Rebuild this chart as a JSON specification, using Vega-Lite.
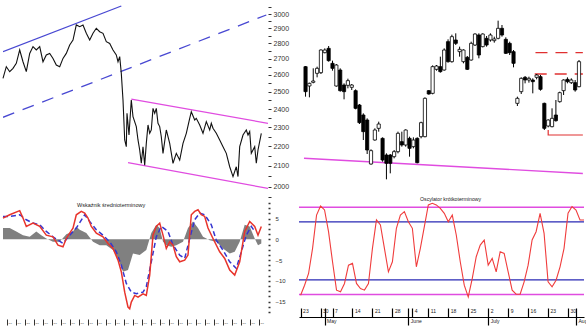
{
  "$schema": "https://vega.github.io/schema/vega-lite/v6.json",
  "padding": 0,
  "background": "white",
  "bounds": "flush",
  "align": "each",
  "columns": 2,
  "spacing": {"row": 2, "column": 31},
  "config": {"view": {"stroke": null}, "font": "Liberation Sans", "axis": {"grid": false, "labelFont": "Liberation Sans"}},
  "datasets": {
    "price": [
      {"t":0,"p":2579},{"t":3.3,"p":2651},{"t":6.7,"p":2620},{"t":10,"p":2641},{"t":13.3,"p":2672},{"t":16.7,"p":2757},{"t":20,"p":2682},{"t":23.3,"p":2620},{"t":26.7,"p":2735},{"t":30,"p":2779},{"t":33.3,"p":2757},{"t":36.7,"p":2779},{"t":40,"p":2682},{"t":43.3,"p":2725},{"t":46.7,"p":2735},{"t":50,"p":2703},{"t":53.3,"p":2661},{"t":56.7,"p":2651},{"t":60,"p":2703},{"t":63.3,"p":2735},{"t":66.7,"p":2789},{"t":70,"p":2822},{"t":73.3,"p":2924},{"t":76.7,"p":2912},{"t":80,"p":2924},{"t":83.3,"p":2867},{"t":86.7,"p":2822},{"t":90,"p":2867},{"t":93.3,"p":2901},{"t":96.7,"p":2878},{"t":100,"p":2867},{"t":103.3,"p":2811},{"t":106.7,"p":2800},{"t":110,"p":2757},{"t":113.3,"p":2725},{"t":115,"p":2682},{"t":116.7,"p":2714},{"t":118.3,"p":2610},{"t":120,"p":2451},{"t":121.7,"p":2232},{"t":123.3,"p":2197},{"t":124,"p":2376},{"t":126,"p":2258},{"t":128.3,"p":2451},{"t":130,"p":2357},{"t":133.3,"p":2303},{"t":135,"p":2232},{"t":136.7,"p":2180},{"t":138.3,"p":2113},{"t":140,"p":2197},{"t":141.7,"p":2104},{"t":143.3,"p":2214},{"t":145,"p":2312},{"t":146.7,"p":2267},{"t":148.3,"p":2285},{"t":150,"p":2404},{"t":151.7,"p":2376},{"t":153.3,"p":2404},{"t":155,"p":2321},{"t":156.7,"p":2303},{"t":158.3,"p":2249},{"t":160,"p":2163},{"t":163.3,"p":2285},{"t":166.7,"p":2214},{"t":170,"p":2113},{"t":173.3,"p":2163},{"t":176.7,"p":2129},{"t":180,"p":2214},{"t":183.3,"p":2267},{"t":186.7,"p":2348},{"t":188.3,"p":2385},{"t":191.7,"p":2339},{"t":193.3,"p":2348},{"t":196.7,"p":2312},{"t":200,"p":2267},{"t":203.3,"p":2330},{"t":206.7,"p":2285},{"t":208.3,"p":2321},{"t":210,"p":2294},{"t":213.3,"p":2267},{"t":216.7,"p":2232},{"t":220,"p":2197},{"t":223.3,"p":2163},{"t":226.7,"p":2096},{"t":230,"p":2048},{"t":233.3,"p":2096},{"t":235,"p":2048},{"t":236.7,"p":2197},{"t":240,"p":2258},{"t":243.3,"p":2285},{"t":245,"p":2258},{"t":246.7,"p":2276},{"t":248.3,"p":2163},{"t":251.7,"p":2197},{"t":253.3,"p":2113},{"t":255,"p":2180},{"t":258.3,"p":2267}
    ],
    "chan": [
      {"name":"bs","t":0,"p":2746},{"name":"bs","t":118.3,"p":3057},
      {"name":"bd","t":0,"p":2354},{"name":"bd","t":263.3,"p":2993},
      {"name":"mu","t":128.3,"p":2457},{"name":"mu","t":265,"p":2321},
      {"name":"ml","t":125,"p":2116},{"name":"ml","t":265,"p":1992}
    ],
    "lbRed": [
      {"t":0,"v":5.1},{"t":6.7,"v":5.9},{"t":16.7,"v":6.9},{"t":20,"v":5.1},{"t":23.3,"v":3.1},{"t":30,"v":3.9},{"t":36.7,"v":3.1},{"t":43.3,"v":1.0},{"t":50,"v":0.6},{"t":55,"v":-1.4},{"t":60,"v":-1.8},{"t":63.3,"v":0.2},{"t":66.7,"v":1.5},{"t":70,"v":2.7},{"t":73.3,"v":5.9},{"t":78.3,"v":6.7},{"t":81.7,"v":6.3},{"t":85,"v":5.1},{"t":88.3,"v":3.1},{"t":93.3,"v":1.5},{"t":100,"v":0.6},{"t":105,"v":-1.0},{"t":110,"v":-2.2},{"t":115,"v":-5.0},{"t":118.3,"v":-7.8},{"t":121.7,"v":-12.7},{"t":125,"v":-16.3},{"t":126.7,"v":-16.7},{"t":128.3,"v":-15.1},{"t":131.7,"v":-13.5},{"t":135,"v":-13.9},{"t":140,"v":-13.1},{"t":143.3,"v":-13.5},{"t":146.7,"v":-8.6},{"t":150,"v":1.0},{"t":153.3,"v":3.1},{"t":156.7,"v":3.9},{"t":160,"v":1.0},{"t":163.3,"v":-2.2},{"t":166.7,"v":-0.6},{"t":170,"v":-1.4},{"t":173.3,"v":-4.2},{"t":176.7,"v":-5.4},{"t":181.7,"v":-5.0},{"t":185,"v":-3.8},{"t":188.3,"v":5.9},{"t":191.7,"v":6.7},{"t":195,"v":7.1},{"t":198.3,"v":5.9},{"t":201.7,"v":5.5},{"t":205,"v":2.7},{"t":210,"v":0.2},{"t":216.7,"v":-3.0},{"t":221.7,"v":-4.6},{"t":226.7,"v":-7.4},{"t":231.7,"v":-8.6},{"t":236.7,"v":-5.4},{"t":241.7,"v":1.9},{"t":246.7,"v":4.3},{"t":251.7,"v":3.1},{"t":255,"v":1.0},{"t":258.3,"v":3.1}
    ],
    "lbBlue": [
      {"t":0,"v":5.5},{"t":6.7,"v":5.5},{"t":16.7,"v":5.9},{"t":23.3,"v":4.7},{"t":30,"v":3.9},{"t":36.7,"v":3.5},{"t":43.3,"v":1.9},{"t":50,"v":0.6},{"t":60,"v":-1.0},{"t":66.7,"v":1.0},{"t":73.3,"v":2.7},{"t":81.7,"v":5.9},{"t":86.7,"v":4.3},{"t":93.3,"v":2.3},{"t":100,"v":1.0},{"t":106.7,"v":-0.6},{"t":113.3,"v":-3.0},{"t":118.3,"v":-6.2},{"t":123.3,"v":-10.6},{"t":128.3,"v":-12.7},{"t":133.3,"v":-13.1},{"t":140,"v":-12.7},{"t":143.3,"v":-11.4},{"t":148.3,"v":-5.4},{"t":153.3,"v":0.6},{"t":158.3,"v":3.1},{"t":165,"v":1.9},{"t":170,"v":-1.4},{"t":176.7,"v":-3.8},{"t":181.7,"v":-4.6},{"t":186.7,"v":0.2},{"t":191.7,"v":4.7},{"t":196.7,"v":6.3},{"t":201.7,"v":5.9},{"t":208.3,"v":3.5},{"t":213.3,"v":-0.2},{"t":220,"v":-2.6},{"t":226.7,"v":-5.4},{"t":233.3,"v":-7.0},{"t":238.3,"v":-3.0},{"t":243.3,"v":1.0},{"t":248.3,"v":3.1},{"t":251.7,"v":1.9}
    ],
    "lbHist": [
      {"t":0,"v":2.7},{"t":6.7,"v":2.7},{"t":13.3,"v":1.9},{"t":20,"v":1.0},{"t":26.7,"v":0.6},{"t":33.3,"v":1.9},{"t":38.3,"v":1.0},{"t":43.3,"v":0.2},{"t":50,"v":-0.6},{"t":56.7,"v":-0.6},{"t":63.3,"v":1.2},{"t":70,"v":1.9},{"t":73.3,"v":3.1},{"t":76.7,"v":2.3},{"t":83.3,"v":1.5},{"t":90,"v":-0.6},{"t":96.7,"v":-1.4},{"t":103.3,"v":-1.4},{"t":110,"v":-2.6},{"t":115,"v":-4.6},{"t":120,"v":-7.8},{"t":125,"v":-7.4},{"t":130,"v":-3.4},{"t":136.7,"v":-3.8},{"t":143.3,"v":-2.6},{"t":148.3,"v":1.5},{"t":153.3,"v":3.5},{"t":156.7,"v":2.7},{"t":160,"v":-0.6},{"t":163.3,"v":-1.4},{"t":168.3,"v":-1.8},{"t":173.3,"v":-1.4},{"t":180,"v":-0.6},{"t":185,"v":2.7},{"t":190,"v":4.3},{"t":195,"v":2.7},{"t":200,"v":0.6},{"t":206.7,"v":-0.2},{"t":213.3,"v":-0.6},{"t":220,"v":-2.2},{"t":226.7,"v":-3.4},{"t":231.7,"v":-3.0},{"t":236.7,"v":-0.6},{"t":241.7,"v":3.5},{"t":246.7,"v":3.1},{"t":251.7,"v":0.2},{"t":255,"v":-1.4},{"t":258.3,"v":-1.0}
    ],
    "candles": [
      {"i":0,"o":2280,"h":2281.2,"l":2226,"c":2235},
      {"i":1,"o":2245.2,"h":2251.2,"l":2224.8,"c":2250},
      {"i":2,"o":2251.8,"h":2277,"l":2250,"c":2254.2},
      {"i":3,"o":2268,"h":2280,"l":2260.8,"c":2277},
      {"i":4,"o":2269.2,"h":2311.2,"l":2266.8,"c":2310},
      {"i":5,"o":2305.2,"h":2313,"l":2304,"c":2310},
      {"i":6,"o":2313,"h":2317.2,"l":2289,"c":2290.8},
      {"i":7,"o":2286,"h":2290.8,"l":2272.8,"c":2277},
      {"i":8,"o":2245.2,"h":2284.8,"l":2244,"c":2283},
      {"i":9,"o":2274,"h":2277,"l":2235,"c":2236.8},
      {"i":10,"o":2247,"h":2250,"l":2221.2,"c":2235},
      {"i":11,"o":2246.4,"h":2258.4,"l":2241,"c":2254.8},
      {"i":12,"o":2242.8,"h":2248.8,"l":2238,"c":2247},
      {"i":13,"o":2236.8,"h":2239.2,"l":2203.2,"c":2205},
      {"i":14,"o":2211,"h":2212.8,"l":2176.8,"c":2179.2},
      {"i":15,"o":2193,"h":2196,"l":2148,"c":2163},
      {"i":16,"o":2184,"h":2187,"l":2122.8,"c":2130},
      {"i":17,"o":2104.8,"h":2131.2,"l":2103.6,"c":2128.8},
      {"i":18,"o":2148,"h":2169,"l":2146.8,"c":2166},
      {"i":19,"o":2169,"h":2181,"l":2163,"c":2176.8},
      {"i":20,"o":2151,"h":2152.8,"l":2109,"c":2112},
      {"i":21,"o":2121,"h":2124,"l":2077.2,"c":2106},
      {"i":22,"o":2121,"h":2122.8,"l":2088,"c":2106},
      {"i":23,"o":2118,"h":2130,"l":2115,"c":2127},
      {"i":24,"o":2127,"h":2163,"l":2124,"c":2160},
      {"i":25,"o":2145,"h":2163,"l":2136,"c":2139},
      {"i":26,"o":2139,"h":2167.2,"l":2136,"c":2166},
      {"i":27,"o":2151,"h":2154,"l":2118,"c":2133},
      {"i":28,"o":2136,"h":2152.8,"l":2133,"c":2148},
      {"i":29,"o":2151,"h":2152.8,"l":2106,"c":2107.2},
      {"i":30,"o":2154,"h":2181,"l":2151,"c":2179.2},
      {"i":31,"o":2154,"h":2224.8,"l":2152.8,"c":2223},
      {"i":32,"o":2236.8,"h":2238,"l":2229.6,"c":2230.8},
      {"i":33,"o":2232,"h":2282.4,"l":2230.2,"c":2280},
      {"i":34,"o":2275.2,"h":2283,"l":2272.8,"c":2281.2},
      {"i":35,"o":2280,"h":2298,"l":2269.2,"c":2271},
      {"i":36,"o":2274,"h":2313,"l":2272.8,"c":2310},
      {"i":37,"o":2325,"h":2329.2,"l":2287.2,"c":2289},
      {"i":38,"o":2289,"h":2337.6,"l":2287.2,"c":2334},
      {"i":39,"o":2328,"h":2340,"l":2319,"c":2322},
      {"i":40,"o":2307,"h":2316,"l":2298,"c":2311.2},
      {"i":41,"o":2289,"h":2311.2,"l":2286,"c":2310},
      {"i":42,"o":2296.8,"h":2299.2,"l":2274,"c":2275.2},
      {"i":43,"o":2292,"h":2325,"l":2290.8,"c":2322},
      {"i":44,"o":2319,"h":2340,"l":2317.2,"c":2338.8},
      {"i":45,"o":2337,"h":2340,"l":2295,"c":2301},
      {"i":46,"o":2316,"h":2340,"l":2314.8,"c":2338.8},
      {"i":47,"o":2331,"h":2335.2,"l":2316,"c":2319},
      {"i":48,"o":2328,"h":2340,"l":2325,"c":2337},
      {"i":49,"o":2326.8,"h":2334,"l":2323.2,"c":2329.8},
      {"i":50,"o":2331,"h":2362.8,"l":2329.2,"c":2349},
      {"i":51,"o":2349,"h":2355,"l":2334,"c":2337},
      {"i":52,"o":2329.2,"h":2332.8,"l":2302.8,"c":2304},
      {"i":53,"o":2322,"h":2325,"l":2301,"c":2305.2},
      {"i":54,"o":2307,"h":2310,"l":2278.8,"c":2286},
      {"i":55,"o":2214,"h":2226,"l":2209.2,"c":2223},
      {"i":56,"o":2235,"h":2260.8,"l":2230.8,"c":2259},
      {"i":57,"o":2260.8,"h":2263.2,"l":2250,"c":2256},
      {"i":58,"o":2256,"h":2262,"l":2251.2,"c":2259},
      {"i":59,"o":2256,"h":2259,"l":2232,"c":2253},
      {"i":60,"o":2260.8,"h":2266.8,"l":2257.2,"c":2265},
      {"i":61,"o":2262,"h":2265,"l":2236.8,"c":2239.2},
      {"i":62,"o":2214,"h":2215.2,"l":2166,"c":2169},
      {"i":63,"o":2173.2,"h":2185.2,"l":2170.8,"c":2184},
      {"i":64,"o":2172,"h":2205,"l":2170.8,"c":2187},
      {"i":65,"o":2193,"h":2220,"l":2181,"c":2182.8},
      {"i":66,"o":2217,"h":2235,"l":2215.2,"c":2233.2},
      {"i":67,"o":2236.8,"h":2257.2,"l":2229,"c":2256},
      {"i":68,"o":2257.2,"h":2260.8,"l":2250,"c":2253},
      {"i":69,"o":2251.2,"h":2259,"l":2248.8,"c":2256},
      {"i":70,"o":2251.2,"h":2256,"l":2235,"c":2238},
      {"i":71,"o":2244,"h":2292,"l":2242.8,"c":2289}
    ],
    "rlines": [
      {"name":"m","i":-0.4,"p":2115.1,"k":0},{"name":"m","i":72,"p":2087.7,"k":1},
      {"name":"u","i":59.7,"p":2305.2,"k":0},{"name":"u","i":72,"p":2305.2,"k":1},
      {"name":"d","i":59.5,"p":2266.8,"k":0},{"name":"d","i":72,"p":2266.8,"k":1},
      {"name":"s","i":63,"p":2166,"k":0},{"name":"s","i":63,"p":2157,"k":1},{"name":"s","i":72,"p":2157,"k":2}
    ],
    "stoch": [
      {"i":0,"v":4.3},{"i":1,"v":14.6},{"i":2,"v":26.7},{"i":3,"v":52.6},{"i":4,"v":87.0},{"i":5,"v":96.3},{"i":6,"v":92.2},{"i":7,"v":69.8},{"i":8,"v":38.8},{"i":9,"v":9.5},
      {"i":10,"v":7.8},{"i":11,"v":16.4},{"i":12,"v":35.3},{"i":13,"v":37.1},{"i":14,"v":16.4},{"i":15,"v":11.2},{"i":16,"v":9.5},{"i":17,"v":16.4},{"i":18,"v":52.6},{"i":19,"v":81.9},
      {"i":20,"v":76.7},{"i":21,"v":52.6},{"i":22,"v":28.4},{"i":23,"v":38.8},{"i":24,"v":73.3},{"i":25,"v":87.0},{"i":26,"v":90.5},{"i":27,"v":80.1},{"i":28,"v":73.3},{"i":29,"v":33.6},
      {"i":30,"v":52.6},{"i":31,"v":75.0},{"i":32,"v":97.4},{"i":33,"v":99.1},{"i":34,"v":97.4},{"i":35,"v":93.9},{"i":36,"v":88.8},{"i":37,"v":80.1},{"i":38,"v":87.0},{"i":39,"v":66.4},
      {"i":40,"v":38.8},{"i":41,"v":14.6},{"i":42,"v":2.6},{"i":43,"v":21.5},{"i":44,"v":44.0},{"i":45,"v":56.0},{"i":46,"v":61.2},{"i":47,"v":35.3},{"i":48,"v":42.2},{"i":49,"v":28.4},
      {"i":50,"v":49.1},{"i":51,"v":47.4},{"i":52,"v":28.4},{"i":53,"v":9.5},{"i":54,"v":5.3},{"i":55,"v":5.3},{"i":56,"v":18.1},{"i":57,"v":35.3},{"i":58,"v":61.2},{"i":59,"v":69.8},
      {"i":60,"v":88.8},{"i":61,"v":68.1},{"i":62,"v":18.1},{"i":63,"v":12.9},{"i":64,"v":19.8},{"i":65,"v":33.6},{"i":66,"v":52.6},{"i":67,"v":88.8},{"i":68,"v":95.7},{"i":69,"v":92.2},
      {"i":70,"v":81.9},{"i":71,"v":81.9}
    ],
    "levels": [{"lv":95,"c":"m"},{"lv":5,"c":"m"},{"lv":80,"c":"b"},{"lv":20,"c":"b"}]
  },
  "concat": [
    {
      "width": 265,
      "height": 198,
      "encoding": {
        "x": {"field": "t", "type": "quantitative", "scale": {"domain": [0, 265], "nice": false}, "axis": null},
        "y": {"field": "p", "type": "quantitative", "scale": {"type": "log", "domain": [1947.6, 3100.3], "nice": false},
          "axis": {"orient": "right", "values": [1950,2000,2050,2100,2150,2200,2250,2300,2350,2400,2450,2500,2550,2600,2650,2700,2750,2800,2850,2900,2950,3000,3050],
            "labelExpr": "datum.value % 100 === 0 ? '' + datum.value : ''", "domain": false, "tickSize": 3, "tickColor": "#333", "labelPadding": 2, "labelFontSize": 7, "labelColor": "#333", "title": null, "labelOverlap": false, "labelFlush": false}}
      },
      "layer": [
        {"data": {"name": "chan"}, "transform": [{"filter": "datum.name === 'bs'"}], "mark": {"type": "line", "strokeWidth": 1.3, "color": "#4848d2", "clip": true}, "encoding": {}},
        {"data": {"name": "chan"}, "transform": [{"filter": "datum.name === 'bd'"}], "mark": {"type": "line", "strokeWidth": 1.3, "color": "#4848d2", "strokeDash": [12, 9], "clip": true}, "encoding": {}},
        {"data": {"name": "chan"}, "transform": [{"filter": "datum.name === 'mu' || datum.name === 'ml'"}], "mark": {"type": "line", "strokeWidth": 1.3, "color": "#e04ce0", "clip": true}, "encoding": {"detail": {"field": "name"}}},
        {"data": {"name": "price"}, "mark": {"type": "line", "color": "#111111", "strokeWidth": 1.1}, "encoding": {}}
      ]
    },
    {
      "width": 285,
      "height": 198,
      "encoding": {
        "x": {"field": "i", "type": "quantitative", "scale": {"domain": [-0.4, 71.0], "nice": false}, "axis": null}
      },
      "layer": [
        {"data": {"name": "rlines"}, "transform": [{"filter": "datum.name === 'm'"}], "mark": {"type": "line", "color": "#e04ce0", "strokeWidth": 1.4, "clip": true},
          "encoding": {"y": {"field": "p", "type": "quantitative", "scale": {"domain": [2043.6, 2400], "zero": false, "nice": false}, "axis": null}}},
        {"data": {"name": "rlines"}, "transform": [{"filter": "datum.name === 'u' || datum.name === 'd'"}], "mark": {"type": "line", "color": "#e03030", "strokeWidth": 1.3, "strokeDash": [12, 8], "clip": true},
          "encoding": {"y": {"field": "p", "type": "quantitative", "axis": null}, "detail": {"field": "name"}}},
        {"data": {"name": "rlines"}, "transform": [{"filter": "datum.name === 's'"}], "mark": {"type": "line", "color": "#e03030", "strokeWidth": 1.2, "clip": true},
          "encoding": {"y": {"field": "p", "type": "quantitative", "axis": null}, "order": {"field": "k"}}},
        {"data": {"name": "candles"}, "mark": {"type": "rule", "color": "#000", "strokeWidth": 1, "clip": true},
          "encoding": {
            "y": {"field": "l", "type": "quantitative", "axis": null},
            "y2": {"field": "h"}
          }},
        {"data": {"name": "candles"}, "mark": {"type": "bar", "size": 3.2, "stroke": "#000", "strokeWidth": 0.8, "clip": true},
          "encoding": {
            "y": {"field": "o", "type": "quantitative", "axis": null},
            "y2": {"field": "c"},
            "fill": {"condition": {"test": "datum.c >= datum.o", "value": "#ffffff"}, "value": "#000000"}
          }}
      ]
    },
    {
      "width": 265,
      "height": 115,
      "title": {"text": "Wskaźnik średnioterminowy", "fontSize": 5.5, "fontWeight": "normal", "anchor": "start", "frame": "group", "dx": 74, "offset": -9, "baseline": "top", "color": "#222"},
      "encoding": {
        "x": {"field": "t", "type": "quantitative", "scale": {"domain": [0, 265], "nice": false},
          "axis": {"values": [4,13,22,31,40,49,58,67,76,85,94,103,112,121,130,139,148,157,166,175,184,193,202,211,220,229,238,247,256],
            "labelExpr": "'--'", "domain": false, "tickSize": 6, "tickColor": "#333", "offset": 4, "labelPadding": -3, "labelBaseline": "middle", "labelAlign": "left", "labelOffset": 1, "labelFontSize": 5, "labelColor": "#333", "title": null, "labelOverlap": false, "labelFlush": false}},
        "y": {"field": "v", "type": "quantitative", "scale": {"domain": [-18.2, 9.45], "zero": false, "nice": false},
          "axis": {"orient": "right", "values": [-17.5,-16.25,-15,-13.75,-12.5,-11.25,-10,-8.75,-7.5,-6.25,-5,-3.75,-2.5,-1.25,0,1.25,2.5,3.75,5,6.25,7.5,8.75],
            "labelExpr": "datum.value % 5 === 0 ? format(datum.value, 'd') : ''", "domain": false, "tickSize": 2, "tickWidth": 1.5, "tickColor": "#333", "labelPadding": 5, "labelFontSize": 6, "labelColor": "#333", "title": null, "labelOverlap": false, "labelFlush": false}}
      },
      "layer": [
        {"data": {"name": "lbHist"}, "mark": {"type": "area", "color": "#808080", "opacity": 1}, "encoding": {"y2": {"datum": 0}}},
        {"data": {"name": "lbBlue"}, "mark": {"type": "line", "color": "#3535d0", "strokeWidth": 1.5, "strokeDash": [5, 3]}, "encoding": {}},
        {"data": {"name": "lbRed"}, "mark": {"type": "line", "color": "#e8342c", "strokeWidth": 1.5}, "encoding": {}}
      ]
    },
    {
      "width": 285,
      "height": 117,
      "title": {"text": "Oscylator krótkoterminowy", "fontSize": 5.2, "fontWeight": "normal", "anchor": "start", "frame": "group", "dx": 121, "offset": -7, "baseline": "bottom", "color": "#222"},
      "resolve": {"axis": {"x": "independent"}},
      "layer": [
        {"data": {"name": "levels"}, "transform": [{"filter": "datum.c === 'm'"}], "mark": {"type": "rule", "strokeWidth": 1.3, "color": "#e04ce0"},
          "encoding": {
            "y": {"field": "lv", "type": "quantitative", "scale": {"domain": [-18.2, 102.5], "zero": false, "nice": false}, "axis": null}
          }},
        {"data": {"name": "levels"}, "transform": [{"filter": "datum.c === 'b'"}], "mark": {"type": "rule", "strokeWidth": 1.3, "color": "#2828b4"},
          "encoding": {
            "y": {"field": "lv", "type": "quantitative", "axis": null}
          }},
        {"data": {"name": "stoch"}, "mark": {"type": "line", "color": "#f03c3c", "strokeWidth": 1.1, "clip": true},
          "encoding": {
            "x": {"field": "i", "type": "quantitative", "scale": {"domain": [-0.4, 71.0], "nice": false},
              "axis": {"orient": "bottom", "values": [0,5,6,8,13,18,23,27,28,32,37,42,47,52,57,62,67,69],
                "labelExpr": "['23','30','','7','14','21','28','','4','11','18','25','2','9','16','23','30',''][indexof([0,5,6,8,13,18,23,27,28,32,37,42,47,52,57,62,67,69], datum.value)]",
                "domain": true, "domainColor": "#000", "domainWidth": 1, "tickColor": "#000", "tickSize": -9, "tickWidth": 1.2, "labelPadding": 0, "labelBaseline": "top", "labelAlign": "left", "labelOffset": 2, "labelFontSize": 5, "labelColor": "#222", "title": null, "labelOverlap": false, "labelFlush": false}},
            "y": {"field": "v", "type": "quantitative", "axis": null}
          }},
        {"data": {"name": "stoch"}, "mark": {"type": "line", "opacity": 0},
          "encoding": {
            "x": {"field": "i", "type": "quantitative", "scale": {"domain": [-0.4, 71.0], "nice": false},
              "axis": {"orient": "bottom", "values": [6,27,47,69],
                "labelExpr": "['May','June','July','Aug'][indexof([6,27,47,69], datum.value)]",
                "domain": false, "tickColor": "#000", "tickSize": 8, "tickWidth": 1.2, "labelPadding": -7, "labelBaseline": "top", "labelAlign": "left", "labelOffset": 2, "labelFontSize": 5, "labelColor": "#222", "title": null, "labelOverlap": false, "labelFlush": false}},
            "y": {"field": "v", "type": "quantitative", "axis": null}
          }}
      ]
    }
  ]
}
